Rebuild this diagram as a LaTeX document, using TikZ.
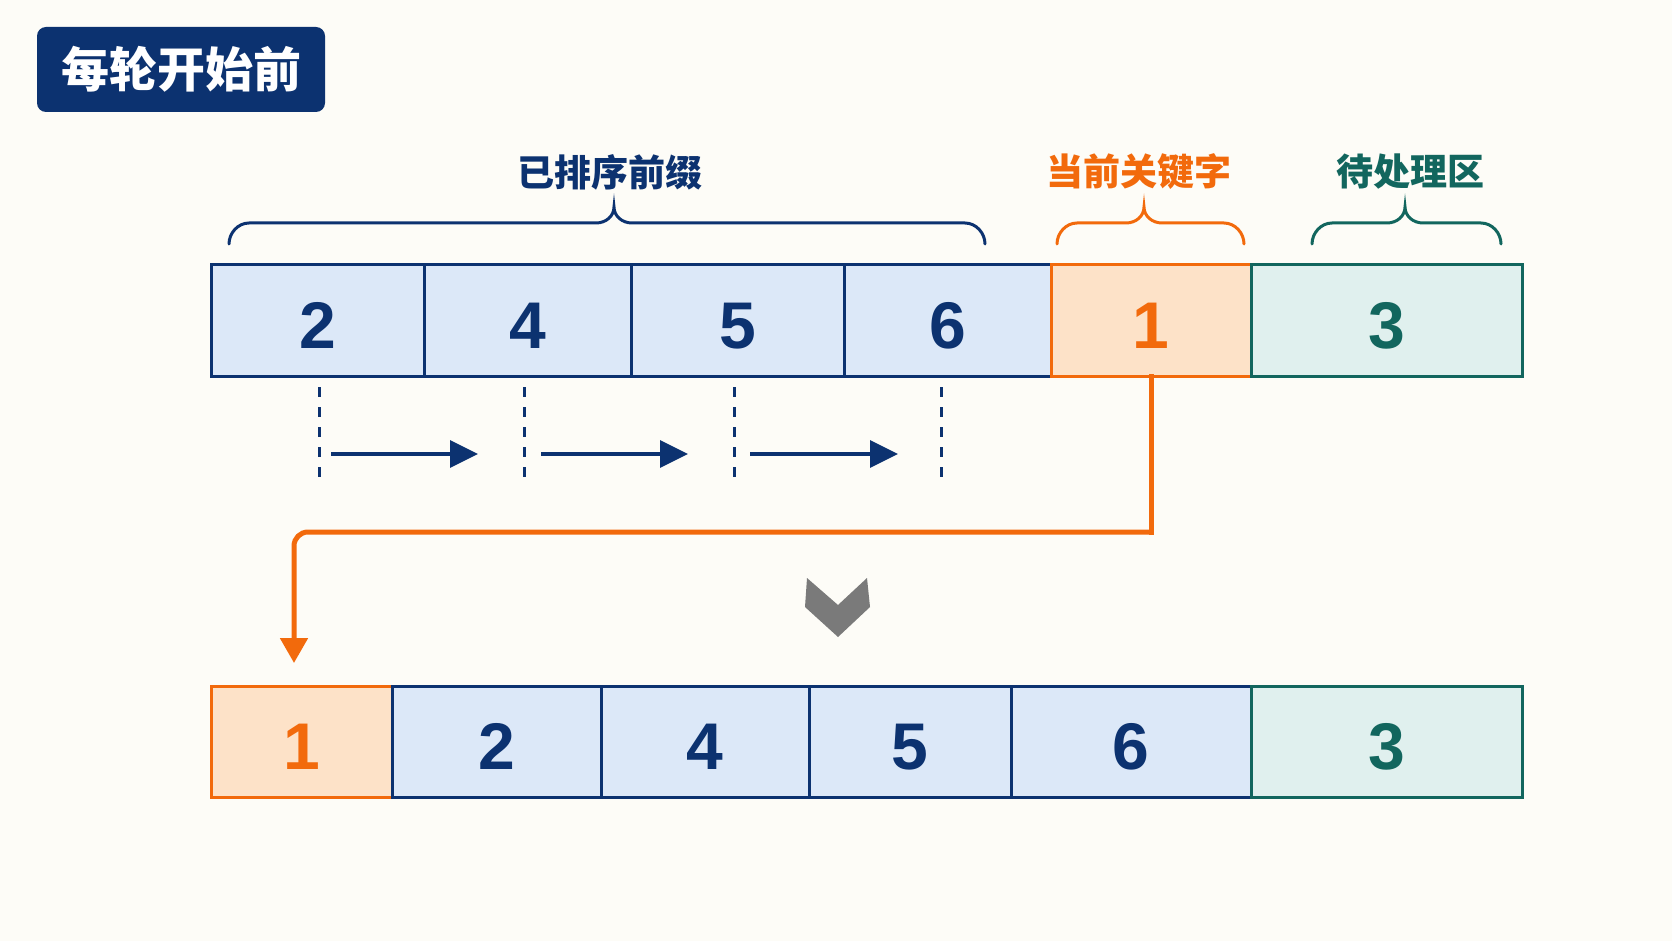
\documentclass[tikz,border=0pt]{standalone}
\usepackage{fontspec}
\setmainfont{Liberation Sans}
\newfontfamily\cjk{Noto Sans CJK SC}
\usetikzlibrary{arrows.meta}
\definecolor{bgc}{HTML}{FDFCF7}
\definecolor{navy}{HTML}{0C3270}
\definecolor{cellblue}{HTML}{DCE8F8}
\definecolor{orng}{HTML}{F26A0C}
\definecolor{orngfill}{HTML}{FDE2C8}
\definecolor{tealc}{HTML}{12665E}
\definecolor{tealfill}{HTML}{E0F0EE}
\definecolor{chev}{HTML}{7A7A7A}
\newcommand\mybrace[4]{%
  \draw[#4, line width=3pt, line cap=round]
    (#1,244) .. controls (#1,233) and (#1+9,223) .. (#1+20,223)
    -- (#3-18,223) .. controls (#3-8,223) and (#3,216) .. (#3,207)
    .. controls (#3,216) and (#3+8,223) .. (#3+18,223)
    -- (#2-20,223) .. controls (#2-9,223) and (#2,233) .. (#2,244);}
\begin{document}
\begin{tikzpicture}[x=1pt,y=-1pt,
  cell/.style={draw=navy, fill=cellblue, line width=3pt, minimum height=111pt,
    inner sep=0pt, outer sep=0pt, text=navy, text height=55pt, text depth=0pt,
    font=\fontsize{66}{66}\selectfont\bfseries},
  keycell/.style={cell, draw=orng, fill=orngfill, text=orng},
  restcell/.style={cell, draw=tealc, fill=tealfill, text=tealc},
  lbl/.style={inner sep=0pt, font=\cjk\bfseries\fontsize{37}{37}\selectfont},
  dashline/.style={navy, line width=3pt, dash pattern=on 10pt off 10pt},
  shiftarrow/.style={navy, line width=3.5pt, -{Triangle[length=28pt,width=27pt]}},
  movearrow/.style={orng, line width=5pt}]
\fill[bgc] (0,0) rectangle (1672,941);
\useasboundingbox (0,0) rectangle (1672,941);

% title
\node[fill=navy, rounded corners=9pt, minimum width=288pt, minimum height=85pt,
  inner sep=0pt, text=white, font=\cjk\bfseries\fontsize{48}{48}\selectfont]
  (title) at (181,69.5) {每轮开始前};

% top row
\node[cell, minimum width=213pt] (t2) at (317.5,320.5) {2};
\node[cell, minimum width=207pt] (t4) at (527.5,320.5) {4};
\node[cell, minimum width=213pt] (t5) at (737.5,320.5) {5};
\node[cell, minimum width=207pt] (t6) at (947.5,320.5) {6};
\node[keycell, minimum width=200pt] (k1) at (1151,320.5) {1};
\node[restcell, minimum width=271pt] (r3) at (1386.5,320.5) {3};

% braces and labels
\mybrace{229}{985}{614}{navy}
\mybrace{1057}{1244}{1144}{orng}
\mybrace{1312}{1501}{1405}{tealc}
\node[lbl, text=navy] (lsorted) at (610,172) {已排序前缀};
\node[lbl, text=orng] (lkey) at (1139,172) {当前关键字};
\node[lbl, text=tealc] (lrest) at (1410,172) {待处理区};

% dashed guides and shift arrows
\foreach \x in {319,524,734,941} \draw[dashline] (\x,387) -- (\x,477);
\coordinate (s1a) at (331,454); \coordinate (s1b) at (478,454);
\coordinate (s2a) at (541,454); \coordinate (s2b) at (688,454);
\coordinate (s3a) at (750,454); \coordinate (s3b) at (898,454);
\draw[shiftarrow] (s1a) -- (s1b);
\draw[shiftarrow] (s2a) -- (s2b);
\draw[shiftarrow] (s3a) -- (s3b);

% chevron
\fill[chev] (807,578) -- (838,605) -- (867,578) -- (870,607) -- (838,637) -- (805,607) -- cycle;

% bottom row
\node[keycell, minimum width=181pt] (b1) at (301.5,742) {1};
\node[cell, minimum width=209pt] (b2) at (496.5,742) {2};
\node[cell, minimum width=208pt] (b4) at (705,742) {4};
\node[cell, minimum width=202pt] (b5) at (910,742) {5};
\node[cell, minimum width=240pt] (b6) at (1131,742) {6};
\node[restcell, minimum width=271pt] (b3) at (1386.5,742) {3};

% move arrow
\coordinate (turnR) at (1151,532);
\coordinate (turnL) at (294,532);
\coordinate (tipB) at (294,663);
\draw[movearrow, line cap=rect] (k1.south) -- (turnR);
\draw[movearrow, rounded corners=14pt, -{Triangle[length=25pt,width=27pt]}]
  (turnR) -- (turnL) -- (tipB);
\end{tikzpicture}
\end{document}
